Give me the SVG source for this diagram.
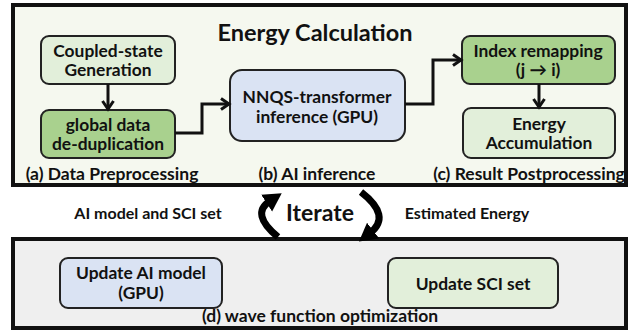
<svg xmlns="http://www.w3.org/2000/svg" width="641" height="332" viewBox="0 0 641 332">
<style>
text{font-family:Lato,"Liberation Sans",sans-serif;font-weight:bold;fill:#111;text-anchor:middle}
.node{stroke:#222;stroke-width:2}
.lg{fill:#e2efda}
.dg{fill:#a9d18e}
.bl{fill:#dae3f3}
.t{font-size:17.4px}
.lab{font-size:17.5px}
.mid{font-size:16px}
.conn{fill:none;stroke:#111;stroke-width:3}
.big{fill:none;stroke:#000;stroke-width:7}
</style>
<defs>
<marker id="ah" markerUnits="userSpaceOnUse" markerWidth="14" markerHeight="14" refX="11" refY="7" orient="auto">
<path d="M3,1.5 L11,7 L3,12.5" fill="none" stroke="#111" stroke-width="3"/>
</marker>
<marker id="bh" markerUnits="userSpaceOnUse" markerWidth="22" markerHeight="22" refX="4" refY="11" orient="auto">
<path d="M0,1 L18,11 L0,21 Z" fill="#000"/>
</marker>
</defs>
<rect x="0" y="0" width="641" height="332" fill="#fff"/>
<g id="energy-calc">
<rect x="13" y="5" width="613" height="180" fill="#f5f8ef" stroke="#111" stroke-width="4"/>
<text x="315" y="41" style="font-size:23.5px">Energy Calculation</text>
<text x="112" y="180" class="lab">(a) Data Preprocessing</text>
<text x="317" y="180" class="lab">(b) AI inference</text>
<text x="529" y="180" class="lab">(c) Result Postprocessing</text>
</g>
<g id="coupled">
<rect x="41" y="36" width="134" height="48" rx="8" class="node lg"/>
<text x="108" y="57" class="t">Coupled-state</text>
<text x="108" y="76" class="t">Generation</text>
</g>
<g id="dedup">
<rect x="41" y="110" width="134" height="48" rx="8" class="node dg"/>
<text x="108" y="131" class="t">global data</text>
<text x="108" y="150" class="t">de-duplication</text>
</g>
<g id="nnqs">
<rect x="230" y="70" width="175" height="71" rx="12" class="node bl"/>
<text x="317" y="103" class="t">NNQS-transformer</text>
<text x="317" y="123" class="t">inference (GPU)</text>
</g>
<g id="remap">
<rect x="462" y="36" width="153" height="48" rx="8" class="node dg"/>
<text x="538" y="57" class="t">Index remapping</text>
<text x="538" y="76" class="t">(j → i)</text>
</g>
<g id="accum">
<rect x="463" y="108" width="152" height="50" rx="8" class="node lg"/>
<text x="539" y="130" class="t">Energy</text>
<text x="539" y="149" class="t">Accumulation</text>
</g>
<g id="wfo">
<rect x="13" y="239" width="613" height="89" fill="#efefef" stroke="#111" stroke-width="4"/>
<text x="320" y="322" class="lab">(d) wave function optimization</text>
</g>
<g id="update-ai">
<rect x="60" y="258" width="162" height="50" rx="8" class="node bl"/>
<text x="141" y="279" class="t">Update AI model</text>
<text x="141" y="299" class="t">(GPU)</text>
</g>
<g id="update-sci">
<rect x="388" y="258" width="170" height="50" rx="8" class="node lg"/>
<text x="473" y="290" class="t">Update SCI set</text>
</g>
<g id="connectors">
<path d="M108,84 V109" class="conn" marker-end="url(#ah)"/>
<path d="M175,133 H202 V104 H229" class="conn" marker-end="url(#ah)"/>
<path d="M405,104 H433 V60 H461" class="conn" marker-end="url(#ah)"/>
<path d="M539,84 V107" class="conn" marker-end="url(#ah)"/>
<path d="M278,237 Q250,214 270,201" class="big" marker-end="url(#bh)"/>
<path d="M361,192 Q392,216 370,233" class="big" marker-end="url(#bh)"/>
<text x="148" y="219" class="mid">AI model and SCI set</text>
<text x="320" y="221" style="font-size:23px">Iterate</text>
<text x="467" y="219" class="mid">Estimated Energy</text>
</g>
</svg>
